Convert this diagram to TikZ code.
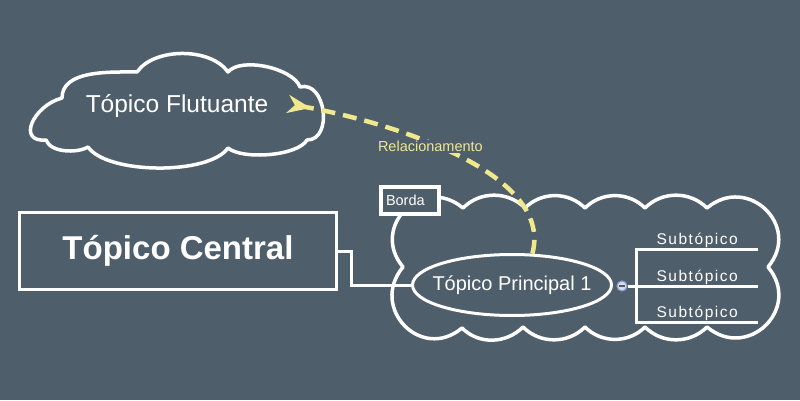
\documentclass[tikz,border=0pt]{standalone}
\usepackage{fontspec}
\setmainfont{Liberation Sans}
\newfontfamily\spaced[LetterSpace=10]{Liberation Sans}
\usepackage{tikz}
\usetikzlibrary{arrows.meta,positioning,shapes.geometric}
\definecolor{bg}{RGB}{79,94,107}
\definecolor{rel}{RGB}{240,232,140}
\definecolor{knobfill}{RGB}{214,220,240}
\definecolor{knobdraw}{RGB}{140,155,208}

\begin{document}
\begin{tikzpicture}[x=1pt, y=1pt, >=Stealth,
	white line/.style={draw=white, line width=3pt},
	cloud line/.style={draw=white, line width=3.5pt, line join=round},
	central topic/.style={white line, minimum width=317pt, minimum height=77pt, text=white, font=\fontsize{33}{38}\selectfont\bfseries},
	main topic/.style={white line, ellipse, minimum width=199pt, minimum height=61pt, inner xsep=-12pt, text=white, font=\fontsize{20}{24}\selectfont},
	sub topic/.style={anchor=south west, minimum width=122pt, inner ysep=4pt, text depth=0pt, text=white, font=\spaced\fontsize{15.5}{18}\selectfont},
	border label/.style={white line, line width=4pt, fill=bg, minimum height=27pt, inner xsep=5pt, text width=48pt, align=left, text=white, font=\fontsize{14.5}{16}\selectfont},
	relation/.style={draw=rel, line width=4.5pt, dash pattern=on 14pt off 8pt}]
	
	\fill [bg] (0,0) rectangle (800,400);
	\useasboundingbox (0,0) rectangle (800,400);
	
	\draw [cloud line] (62,302) to[out=90, in=180, looseness=0.9] (137,328)
	to[out=55, in=125, looseness=0.85] (228,328)
	to[out=50, in=110, looseness=0.7] (300,313)
	to[out=15, in=0, looseness=1.27] (307,260)
	to[out=-120, in=-40, looseness=0.6] (228,252)
	to[out=-125, in=-55, looseness=0.61] (88,253)
	to[out=-150, in=-70, looseness=0.8] (46,260)
	to[out=185, in=195, looseness=1.7] cycle;
	\node [text=white, font=\fontsize{24.5}{28}\selectfont] (floating) at (177,294) {Tópico Flutuante};
	
	\draw [cloud line] (403,133) to[out=130, in=140, looseness=1.6] (463,192)
	to[out=45, in=135] (525,192) to[out=45, in=135] (585,192)
	to[out=45, in=135] (645,192) to[out=45, in=135] (707,192)
	to[out=40, in=50, looseness=1.6] (768,133)
	to[out=-50, in=-40, looseness=1.6] (707,73)
	to[out=-135, in=-45] (645,73) to[out=-135, in=-45] (585,73)
	to[out=-135, in=-45] (523,73) to[out=-135, in=-45] (462,72)
	to[out=220, in=230, looseness=1.6] cycle;
	\node [border label] (border) at (410,199.5) {Borda};
	
	\node [central topic] (central) at (178,149) {Tópico Central};
	\node [main topic] (principal) at (512,115) {Tópico Principal 1};
	
	\draw [white line] (central.east) -- ++(13,0) |- (principal.west);
	
	\foreach \y [count=\i] in {151,114,78}
	\node [sub topic] (sub-\i) at (636,\y) {Subtópico};
	
	\node [circle, draw=knobdraw, fill=knobfill, line width=1.2pt, minimum size=10pt, inner sep=0pt] (knob) at (622,114) {};
	\draw [gray!70!black, line width=1.2pt] ([xshift=-3pt]knob.center) -- ([xshift=3pt]knob.center);
	
	\draw [white line] (sub-1.south east) -- (sub-1.south west) -- (sub-3.south west) -- (sub-3.south east);
	\draw [white line] (knob.east) -- (sub-2.south west) -- (sub-2.south east);
	
	\coordinate (rel-end) at (288,296);
	\draw [relation, -{Stealth[reversed, length=23pt, width=18pt, inset=7pt]}] (principal.57) .. controls (555,230) and (380,280) .. (rel-end)
	node [pos=0.57, yshift=-3pt, fill=bg, inner sep=1pt, text=rel, font=\fontsize{14.5}{16}\selectfont] (rel-label) {Relacionamento};
	
\end{tikzpicture}
\end{document}
